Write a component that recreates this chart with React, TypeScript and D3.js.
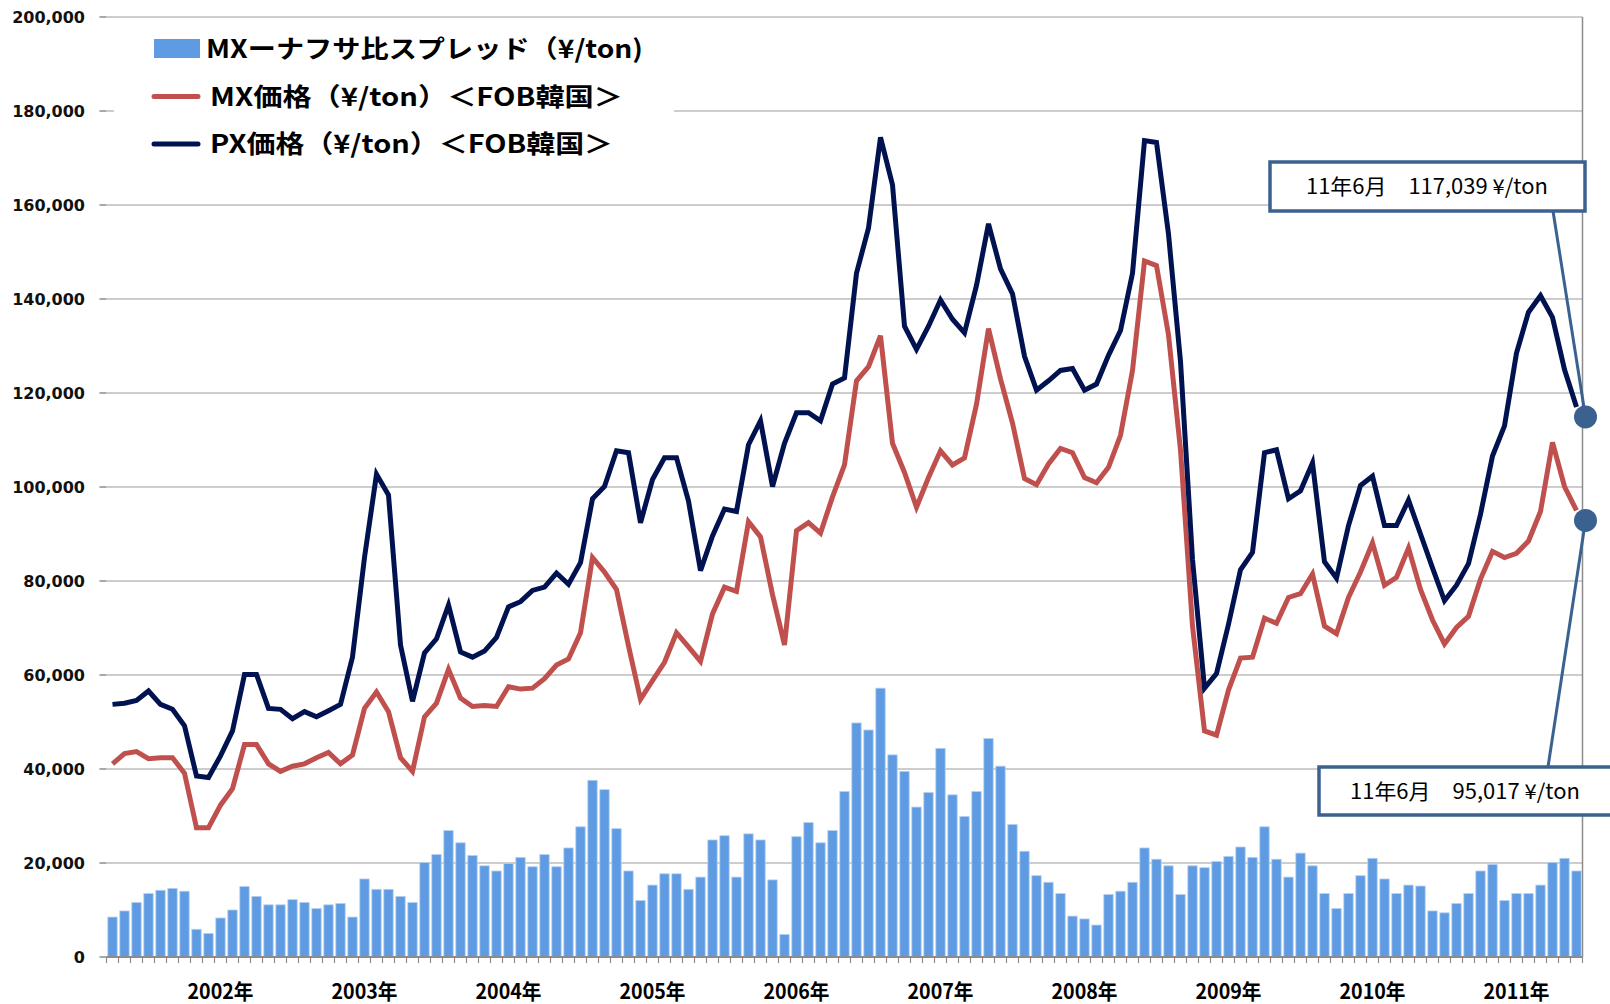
import React from 'react'
import * as d3 from 'd3'

// monthly data, Apr 2001 - Jun 2011
const startYear = 2001
const startMonth = 4

const spread = [
  8500, 9800, 11600, 13500, 14200, 14600, 14000, 5900, 5000,
  8300, 10000, 15000, 12900, 11100, 11100, 12200, 11600, 10300, 11100, 11400, 8500,
  16600, 14400, 14400, 12900, 11600, 20100, 21800, 26900, 24300, 21600, 19400, 18300,
  19900, 21200, 19200, 21800, 19200, 23200, 27700, 37600, 35600, 27300, 18300, 12000,
  15300, 17700, 17700, 14400, 17000, 24900, 25800, 17000, 26200, 24900, 16400, 4800,
  25600, 28600, 24300, 26900, 35200, 49800, 48300, 57200, 43000, 39500, 31900, 35000,
  44400, 34500, 29900, 35200, 46500, 40600, 28200, 22500, 17300, 15900, 13500, 8700,
  8100, 6800, 13300, 14000, 15900, 23200, 20800, 19400, 13300, 19400, 19000, 20300,
  21400, 23400, 21200, 27700, 20800, 17000, 22100, 19400, 13500, 10300, 13500, 17300,
  21000, 16600, 13500, 15300, 15100, 9800, 9400, 11400, 13500, 18300, 19700, 12000,
  13500, 13500, 15300, 20100, 21000, 18300,
]

const mxPrice = [
  41100, 43300, 43700, 42200, 42400, 42400, 39100, 27500, 27500,
  32300, 35800, 45200, 45200, 41100, 39500, 40600, 41100, 42400, 43500, 41100, 43000,
  52900, 56400, 52200, 42400, 39500, 51100, 54000, 61200, 55100, 53300, 53500, 53300,
  57500, 57000, 57200, 59200, 62100, 63400, 69000, 85000, 81900, 78200, 66200, 54800,
  58800, 62700, 69000, 66000, 62900, 73000, 78700, 77800, 92600, 89400, 77100, 66400,
  90700, 92400, 90200, 97900, 104700, 122600, 125600, 132200, 109300, 103100, 95700, 102000,
  107700, 104700, 106200, 117600, 133700, 123000, 113600, 101800, 100500, 104900, 108200, 107300,
  102000, 100900, 104200, 111000, 124800, 148100, 147100, 132400, 107900, 70400, 48100, 47200,
  56800, 63600, 63800, 72100, 71000, 76500, 77300, 81500, 70400, 68800, 76500, 81900,
  88100, 79100, 80800, 87000, 78200, 71700, 66600, 70100, 72500, 80400, 86300, 85000,
  85900, 88500, 94800, 109500, 100100, 95017,
]

const pxPrice = [
  53750, 54000, 54600, 56600, 53750, 52700, 49200, 38500, 38200,
  42800, 48100, 60100, 60100, 52900, 52700, 50700, 52200, 51100, 52400, 53750, 63800,
  85000, 102700, 98300, 66400, 54400, 64700, 67700, 74900, 64900, 63800, 65100, 68000,
  74500, 75600, 78000, 78700, 81700, 79300, 83900, 97500, 100100, 107700, 107300, 92400,
  101600, 106200, 106200, 97000, 82200, 89600, 95300, 94800, 109000, 114100, 100100, 109300,
  115800, 115800, 114100, 121900, 123200, 145500, 155100, 174400, 164300, 134200, 129300, 134200,
  139800, 135700, 132800, 142900, 156000, 146400, 141100, 127800, 120600, 122600, 124800, 125200,
  120600, 121900, 128000, 133300, 145500, 173700, 173300, 153800, 126700, 84600, 57200, 60300,
  70800, 82400, 86100, 107300, 107900, 97500, 99200, 105100, 84100, 80600, 91800, 100300,
  102300, 91800, 91800, 97200, 90000, 82800, 75800, 79100, 83700, 94200, 106600, 113000,
  128500, 137200, 140700, 136100, 125000, 117039,
]

const yearLabels = ['2002年', '2003年', '2004年', '2005年', '2006年', '2007年', '2008年', '2009年', '2010年', '2011年']
const yTicks = [0, 20000, 40000, 60000, 80000, 100000, 120000, 140000, 160000, 180000, 200000]

const legendItems = [
  { label: 'MXーナフサ比スプレッド（¥/ton)', kind: 'bar', width: 437 },
  { label: 'MX価格（¥/ton）＜FOB韓国＞', kind: 'mx', width: 413 },
  { label: 'PX価格（¥/ton）＜FOB韓国＞', kind: 'px', width: 403 },
]

const categories = spread.map((_, i) => {
  const m = startMonth - 1 + i
  return `${startYear + Math.floor(m / 12)}-${(m % 12) + 1}`
})

const COLORS = { bar: '#5f9be2', barEdge: '#b5d0f2', mx: '#c0504d', px: '#00124f', callout: '#3b6190', grid: '#bdbdbd', axis: '#8c8c8c' }

const App = () => {
  const width = 1610
  const height = 1004
  const left = 106.5
  const right = 1582.5
  const top = 17
  const bottom = 957

  const x = d3.scaleBand().domain(categories).range([left, right]).paddingInner(0.22).paddingOuter(0.11)
  const y = d3.scaleLinear().domain([0, 200000]).range([bottom, top])
  const cx = (i) => x(categories[i]) + x.bandwidth() / 2

  const line = d3.line().x((d, i) => cx(i)).y(d => y(d))
  const step = x.step()
  const last = categories.length - 1

  const callouts = [
    { value: pxPrice[last], text: '11年6月　117,039  ¥/ton', box: [1270, 162, 315, 49], anchor: [1553, 211], tx: 1306, tw: 242 },
    { value: mxPrice[last], text: '11年6月　95,017  ¥/ton', box: [1319, 767, 300, 48], anchor: [1548, 767], tx: 1350, tw: 230 },
  ]

  return (
    <div style={{ position: 'absolute', left: 0, top: 0 }}>
      <svg width={width} height={height} style={{ display: 'block', background: '#fff' }}>
        {/* grid + y axis */}
        {yTicks.map(t => (
          <g key={`g${t}`}>
            {t > 0 && <line x1={left} x2={right} y1={y(t)} y2={y(t)} stroke={COLORS.grid} strokeWidth={1.5} />}
            <line x1={left - 7} x2={left} y1={y(t)} y2={y(t)} stroke={COLORS.axis} strokeWidth={1.5} />
            <text x={85} y={y(t)} dy="0.4em" textAnchor="end" fontFamily="DejaVu Sans" fontWeight="bold" fontSize={16} fill="#111">
              {d3.format(',')(t)}
            </text>
          </g>
        ))}
        <line x1={right} x2={right} y1={top} y2={bottom} stroke={COLORS.axis} strokeWidth={1.5} />

        {/* legend */}
        <rect x={114} y={26} width={560} height={140} fill="#fff" />
        {legendItems.map((d, i) => {
          const ly = 49 + i * 47.5
          return (
            <g key={d.label}>
              {d.kind === 'bar'
                ? <rect x={154} y={ly - 10} width={46} height={19} fill={COLORS.bar} />
                : <line x1={154} x2={198} y1={ly} y2={ly} stroke={COLORS[d.kind]} strokeWidth={5} strokeLinecap="round" />}
              <text x={d.kind === 'bar' ? 206 : 210} y={ly} dy="0.36em" fontFamily="Noto Sans CJK JP" fontWeight="bold" fontSize={25}
                textLength={d.width} lengthAdjust="spacingAndGlyphs" fill="#000">{d.label}</text>
            </g>
          )
        })}

        {/* bars */}
        {spread.map((v, i) => (
          <rect key={`b${i}`} x={x(categories[i])} y={y(v)} width={x.bandwidth()} height={bottom - y(v)}
            fill={COLORS.bar} stroke={COLORS.barEdge} strokeWidth={0.8} />
        ))}

        {/* x axis */}
        <line x1={left} x2={right} y1={bottom} y2={bottom} stroke={COLORS.axis} strokeWidth={2} />
        {d3.range(categories.length + 1).map(i => (
          <line key={`t${i}`} x1={left + i * step} x2={left + i * step} y1={bottom} y2={bottom + 6} stroke={COLORS.axis} strokeWidth={1.2} />
        ))}
        {yearLabels.map(lbl => {
          const i = categories.indexOf(`${parseInt(lbl)}-1`)
          return (
            <text key={lbl} x={cx(i) - 33} y={999} fontFamily="Noto Sans CJK JP" fontWeight="bold" fontSize={21}
              textLength={66} lengthAdjust="spacingAndGlyphs" fill="#000">{lbl}</text>
          )
        })}

        {/* lines */}
        <path d={line(mxPrice)} fill="none" stroke={COLORS.mx} strokeWidth={5} />
        <path d={line(pxPrice)} fill="none" stroke={COLORS.px} strokeWidth={5} />

        {/* callouts */}
        {callouts.map(c => {
          const dx = cx(last) + 9
          const dy = y(c.value) + 10
          const [bx, by, bw, bh] = c.box
          return (
            <g key={c.text}>
              <line x1={c.anchor[0]} y1={c.anchor[1]} x2={dx} y2={dy} stroke={COLORS.callout} strokeWidth={3} />
              <circle cx={dx} cy={dy} r={11.5} fill={COLORS.callout} />
              <rect x={bx} y={by} width={bw} height={bh} fill="#fff" stroke={COLORS.callout} strokeWidth={3.5} />
              <text x={c.tx} y={by + bh / 2} dy="0.36em" fontFamily="Noto Sans CJK JP" fontSize={21}
                textLength={c.tw} lengthAdjust="spacingAndGlyphs" fill="#000">{c.text}</text>
            </g>
          )
        })}
      </svg>
    </div>
  )
}

export default App
